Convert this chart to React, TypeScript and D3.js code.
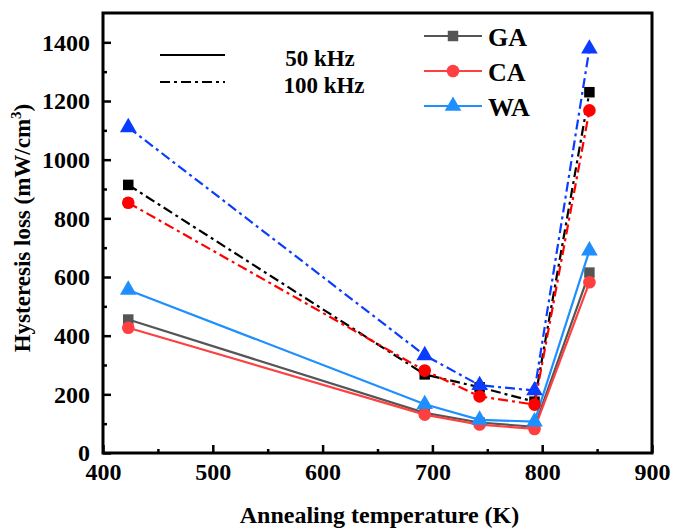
import React, { useEffect, useRef } from 'react';
import * as d3 from 'd3';

// annealing temperatures (K)
const temps = [423, 693, 743, 793, 843];

const ga50 = [455, 137, 104, 89, 615];
const ca50 = [427, 131, 97, 82, 582];
const wa50 = [556, 166, 113, 107, 690];
const ga100 = [914, 268, 224, 175, 1230];
const ca100 = [853, 281, 193, 165, 1168];
const wa100 = [1110, 333, 231, 213, 1378];

const xTicks = [400, 500, 600, 700, 800, 900];
const yTicks = [0, 200, 400, 600, 800, 1000, 1200, 1400];

const seriesNames = ['GA', 'CA', 'WA'];
const freqNames = ['50 kHz', '100 kHz'];

const App = () => {
  const svgRef = useRef<SVGSVGElement>(null);

  useEffect(() => {
    const W = 673;
    const H = 530;
    const margin = { top: 13, right: 21, bottom: 77, left: 103 };
    const width = W - margin.left - margin.right;
    const height = H - margin.top - margin.bottom;
    const font = '"Liberation Serif", "Times New Roman", serif';
    const dashDot = '10,4,3,4';

    const root = d3.select(svgRef.current);
    root.selectAll('*').remove();
    root.attr('width', W).attr('height', H);

    const svg = root.append('g').attr('transform', `translate(${margin.left},${margin.top})`);

    const x = d3.scaleLinear().domain([400, 900]).range([0, width]);
    const y = d3.scaleLinear().domain([0, 1500]).range([height, 0]);

    const series = [
      { data: ga50, color: '#555555', dash: null, shape: 'square' },
      { data: ca50, color: '#ff4040', dash: null, shape: 'circle' },
      { data: wa50, color: '#1e8fff', dash: null, shape: 'triangle' },
      { data: ga100, color: '#000000', dash: dashDot, shape: 'square' },
      { data: ca100, color: '#ff0000', dash: dashDot, shape: 'circle' },
      { data: wa100, color: '#0a3cff', dash: dashDot, shape: 'triangle' },
    ];

    const symbolFor = (shape: string) =>
      shape === 'square'
        ? d3.symbol().type(d3.symbolSquare).size(110)
        : shape === 'circle'
        ? d3.symbol().type(d3.symbolCircle).size(125)
        : d3.symbol().type(d3.symbolTriangle).size(120);

    const line = d3
      .line<number>()
      .x((_, i) => x(temps[i]))
      .y((d) => y(d));

    series.forEach((s) => {
      svg
        .append('path')
        .datum(s.data)
        .attr('fill', 'none')
        .attr('stroke', s.color)
        .attr('stroke-width', 2.2)
        .attr('stroke-dasharray', s.dash)
        .attr('d', line);

      svg
        .selectAll(null)
        .data(s.data)
        .enter()
        .append('path')
        .attr('transform', (d, i) => `translate(${x(temps[i])},${y(d)})`)
        .attr('d', symbolFor(s.shape)())
        .attr('fill', s.color);
    });

    // frame
    svg
      .append('rect')
      .attr('width', width)
      .attr('height', height)
      .attr('fill', 'none')
      .attr('stroke', '#000')
      .attr('stroke-width', 3);

    // x axis
    const xAxis = svg
      .append('g')
      .attr('transform', `translate(0,${height})`)
      .call(d3.axisBottom(x).tickValues(xTicks).tickSize(-8).tickPadding(10).tickFormat(d3.format('d')));
    xAxis.select('.domain').remove();
    xAxis.selectAll('line').attr('stroke-width', 2.5);
    xAxis
      .selectAll('text')
      .attr('font-family', font)
      .attr('font-weight', 'bold')
      .attr('font-size', 24)
      .attr('fill', '#000');
    svg
      .append('g')
      .attr('transform', `translate(0,${height})`)
      .call(d3.axisBottom(x).tickValues(d3.range(450, 900, 100)).tickSize(-4).tickFormat(() => ''))
      .call((g) => g.select('.domain').remove())
      .selectAll('line')
      .attr('stroke-width', 2.5);

    // y axis
    const yAxis = svg
      .append('g')
      .call(d3.axisLeft(y).tickValues(yTicks).tickSize(-8).tickPadding(13).tickFormat(d3.format('d')));
    yAxis.select('.domain').remove();
    yAxis.selectAll('line').attr('stroke-width', 2.5);
    yAxis
      .selectAll('text')
      .attr('font-family', font)
      .attr('font-weight', 'bold')
      .attr('font-size', 24)
      .attr('fill', '#000');
    svg
      .append('g')
      .call(d3.axisLeft(y).tickValues(d3.range(100, 1500, 200)).tickSize(-4).tickFormat(() => ''))
      .call((g) => g.select('.domain').remove())
      .selectAll('line')
      .attr('stroke-width', 2.5);

    // axis titles
    root
      .append('text')
      .attr('x', margin.left + width / 2 + 2)
      .attr('y', 523)
      .attr('text-anchor', 'middle')
      .attr('font-family', font)
      .attr('font-weight', 'bold')
      .attr('font-size', 24)
      .text('Annealing temperature (K)');

    const yTitle = root
      .append('text')
      .attr('transform', `translate(30,228) rotate(-90)`)
      .attr('text-anchor', 'middle')
      .attr('font-family', font)
      .attr('font-weight', 'bold')
      .attr('font-size', 23);
    yTitle.append('tspan').text('Hysteresis loss (mW/cm');
    yTitle.append('tspan').attr('font-size', 15).attr('dy', -9).text('3');
    yTitle.append('tspan').attr('dy', 9).text(')');

    // frequency legend
    const freqLeg = root.append('g');
    freqNames.forEach((name, i) => {
      const ly = 55 + i * 27;
      freqLeg
        .append('line')
        .attr('x1', 160)
        .attr('x2', 225)
        .attr('y1', ly)
        .attr('y2', ly)
        .attr('stroke', '#000')
        .attr('stroke-width', 2.2)
        .attr('stroke-dasharray', i === 0 ? null : dashDot);
      freqLeg
        .append('text')
        .attr('x', 320 + i * 4)
        .attr('y', 66 + i * 27)
        .attr('text-anchor', 'middle')
        .attr('font-family', font)
        .attr('font-weight', 'bold')
        .attr('font-size', 23)
        .text(name);
    });

    // sample legend
    const sampleLeg = root.append('g');
    seriesNames.forEach((name, i) => {
      const s = series[i];
      const ly = 36 + i * 35;
      sampleLeg
        .append('line')
        .attr('x1', 424)
        .attr('x2', 482)
        .attr('y1', ly)
        .attr('y2', ly)
        .attr('stroke', s.color)
        .attr('stroke-width', 2.2);
      sampleLeg
        .append('path')
        .attr('transform', `translate(453,${ly})`)
        .attr('d', symbolFor(s.shape)())
        .attr('fill', s.color);
      sampleLeg
        .append('text')
        .attr('x', 488)
        .attr('y', ly + 10)
        .attr('font-family', font)
        .attr('font-weight', 'bold')
        .attr('font-size', 26)
        .text(name);
    });
  }, []);

  return (
    <div style={{ position: 'absolute', left: 0, top: 0 }}>
      <svg ref={svgRef} style={{ display: 'block', background: '#fff' }} />
    </div>
  );
};

export default App;
